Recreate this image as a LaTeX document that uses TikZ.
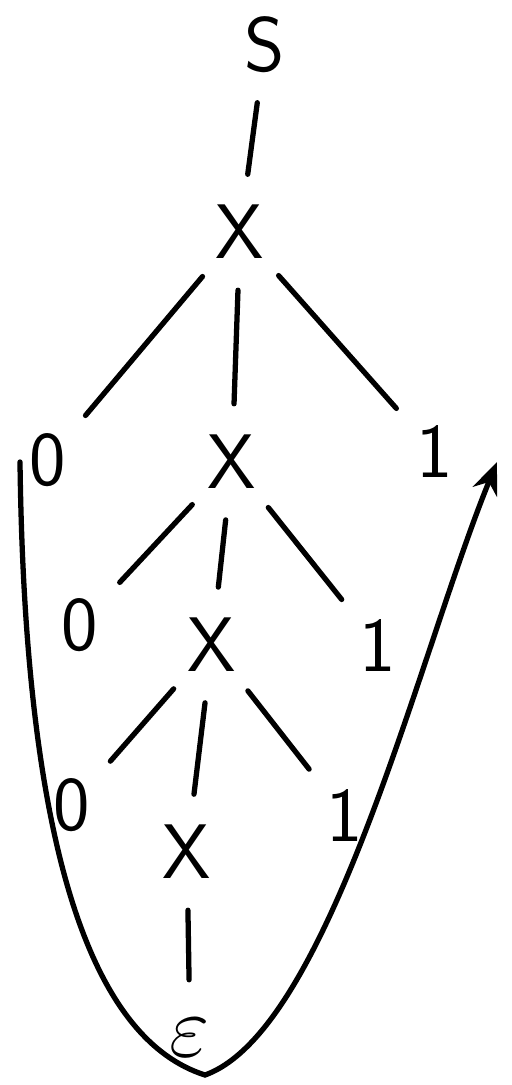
\documentclass[tikz,border=0pt]{standalone}
\usepackage{tikz}
\usetikzlibrary{arrows.meta}
\tikzset{
  >={Stealth[length=3.2mm,width=2.6mm]},
  % parse tree
  sym/.style={circle,minimum size=1.15cm,inner sep=0pt,
              font=\fontsize{22}{22}\sffamily},
  br/.style={draw=black,line width=1.5pt,line cap=round},
  path/.style={->,draw=black,line width=1.5pt,line cap=round},
}
\begin{document}
\begin{tikzpicture}[x=0.01cm,y=-0.01cm]
\useasboundingbox (0,0) rectangle (511,1085);
  \node[sym] (s) at (265,45) {S};
  \node[sym] (x1) at (240,232) {X};
  \node[sym] (o1) at (48,460) {0};
  \node[sym] (x2) at (232,462) {X};
  \node[sym] (l1) at (435,452) {1};
  \node[sym] (o2) at (80,625) {0};
  \node[sym] (x3) at (212,645) {X};
  \node[sym] (l2) at (378,645) {1};
  \node[sym] (o3) at (72,805) {0};
  \node[sym] (x4) at (187,852) {X};
  \node[sym] (l3) at (345,815) {1};
  \node[sym,font=\fontsize{32}{32}\selectfont] (eps) at (190,1038) {$\varepsilon$};
  \draw[br] (s) -- (x1);
  \draw[br] (x1) -- (o1);
  \draw[br] (x1) -- (x2);
  \draw[br] (x1) -- (l1);
  \draw[br] (x2) -- (o2);
  \draw[br] (x2) -- (x3);
  \draw[br] (x2) -- (l2);
  \draw[br] (x3) -- (o3);
  \draw[br] (x3) -- (x4);
  \draw[br] (x3) -- (l3);
  \draw[br] (x4) -- (eps);
  % the loop round the tree
  \coordinate (lft) at (20,462);
  \coordinate (bot) at (205,1075);
  \coordinate (tip) at (497,462);
  \draw[path] (lft) .. controls (25,860) and (95,1040) .. (bot)
                    .. controls (330,1030) and (420,650) .. (tip);
\end{tikzpicture}
\end{document}
